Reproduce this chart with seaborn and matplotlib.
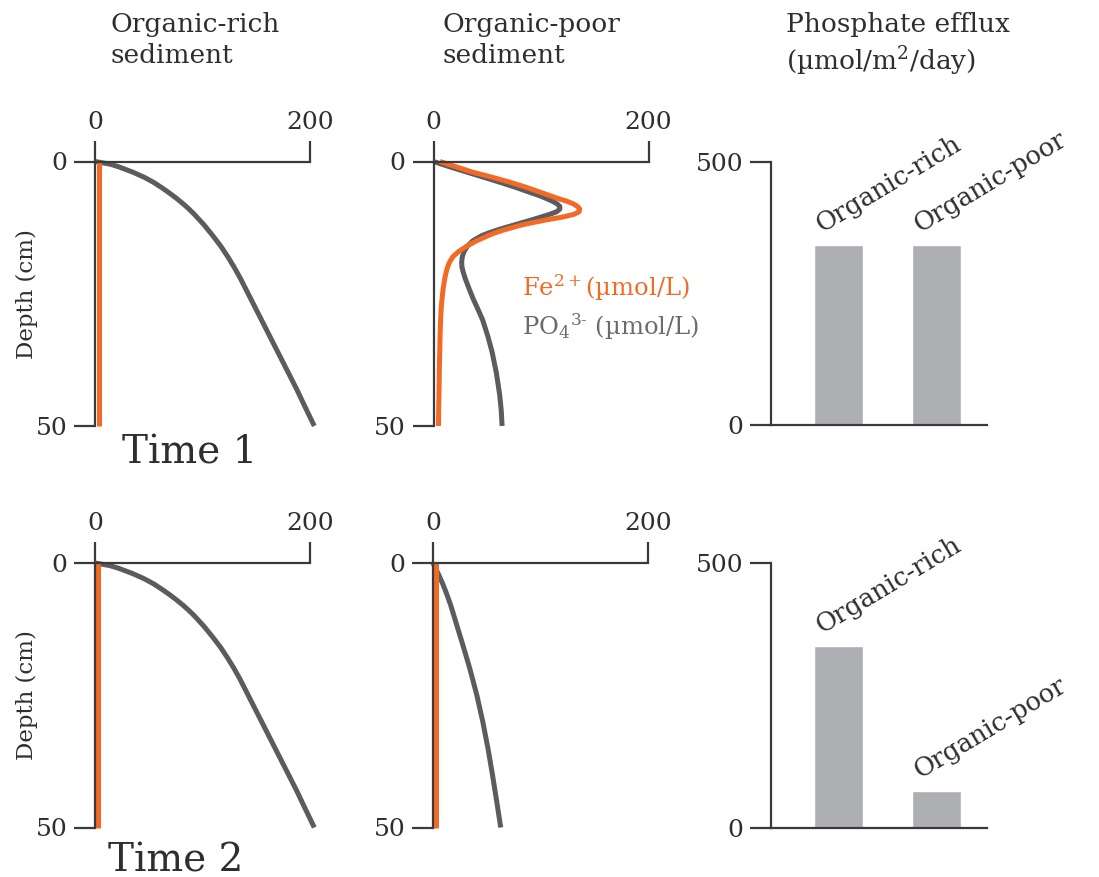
import matplotlib
matplotlib.use("Agg")
import matplotlib.pyplot as plt
import seaborn as sns
import pandas as pd

# ---------------- data ----------------
# Organic-rich sediment (same at time 1 and time 2)
depth_rich = [0, 0.5, 1, 2, 3, 4, 5, 6, 7, 8, 9, 10, 12, 14, 16, 18, 20, 22, 25,
              28, 31, 34, 37, 40, 43, 46, 50]
po4_rich_t1 = [0, 14, 22, 35, 46, 55, 62.5, 69.5, 76, 82, 87.5, 92.5, 101.5, 109.5,
               117, 123.5, 129.5, 135, 142.5, 150, 157.5, 165, 172.5, 180, 187.5,
               194.5, 204]
po4_rich_t2 = [0, 14, 22, 35, 46, 55, 62.5, 69.5, 76, 82, 87.5, 92.5, 101.5, 109.5,
               117, 123.5, 129.5, 135, 142.5, 150, 157.5, 165, 172.5, 180, 187.5,
               194.5, 204]
depth_fe_rich = [0, 50]
fe_rich_t1 = [4, 4]
fe_rich_t2 = [3, 3]

# Organic-poor sediment, time 1
depth_poor_t1 = [0, 1, 2, 3, 4, 5, 6, 6.5, 7, 7.5, 8, 8.5, 9, 9.5, 10, 10.5, 11,
                 11.5, 12, 12.5, 13, 13.5, 14, 15, 16, 17, 18, 19, 20, 21, 22, 24,
                 26, 28, 30, 33, 36, 40, 44, 47, 50]
fe_poor_t1 = [6, 21, 36, 55, 72.5, 88, 102, 109, 116, 124, 130, 134, 136, 135.5,
              130.5, 120, 106, 93.5, 82, 73, 64.5, 57, 51, 40, 31, 23.5, 18, 15,
              13, 11.7, 10.6, 9, 7.9, 7.1, 6.6, 6.1, 5.8, 5.4, 5.1, 4.8, 4.6]
po4_poor_t1 = [0, 15, 31, 47, 63, 78, 92, 99, 105, 110.5, 115, 117.5, 117.5, 114.5,
               108, 100, 92, 83.5, 75, 66.5, 58.5, 51.5, 45, 36.5, 31.5, 28.5, 26.8,
               26.2, 26.5, 27.8, 29.3, 33, 37, 41.5, 45.8, 50.5, 54.5, 58.5, 61.5,
               63, 63.8]

# Organic-poor sediment, time 2
depth_poor_t2 = [0, 2, 4, 6, 8, 10, 13, 16, 20, 25, 30, 35, 40, 45, 50]
po4_poor_t2 = [0, 4.8, 9.2, 13, 16.5, 19.5, 24, 28.5, 34.3, 40.8, 46.3, 51.1, 55.3,
               59.2, 63]
depth_fe_poor = [0, 50]
fe_poor_t2 = [3, 3]

# Phosphate efflux (umol/m2/day)
bar_categories = ["Organic-rich", "Organic-poor"]
efflux_t1 = [342, 342]
efflux_t2 = [343, 70]

x_ticks = [0, 200]
depth_ticks = [0, 50]
efflux_ticks = [0, 500]

# ---------------- style ----------------
sns.set_theme(style="white")
plt.rcParams["font.family"] = ["DejaVu Serif"]
plt.rcParams["mathtext.fontset"] = "dejavuserif"

ORANGE = "#F26A25"
GRAY_LINE = "#5B5C5F"
BAR = "#AEAFB2"
AXC = "#3A3A3A"
TXT = "#2E2E2E"
FS_TICK = 18
FS_TITLE = 19
LW = 3.6

fig = plt.figure(figsize=(10.99, 8.77), dpi=100)


def style_profile(ax):
    ax.set_xlim(0, 200)
    ax.set_ylim(50, 0)
    ax.xaxis.tick_top()
    ax.set_xticks(x_ticks)
    ax.set_yticks(depth_ticks)
    for s in ["right", "bottom"]:
        ax.spines[s].set_visible(False)
    for s in ["top", "left"]:
        ax.spines[s].set_color(AXC)
        ax.spines[s].set_linewidth(1.6)
    ax.tick_params(axis="both", direction="out", length=15, width=1.6,
                   color=AXC, labelsize=FS_TICK, labelcolor=TXT, pad=5)
    ax.tick_params(axis="x", top=True, bottom=False)
    ax.tick_params(axis="y", left=True, right=False)
    ax.set_xlabel("")
    ax.set_ylabel("")
    ax.set_facecolor("none")


def draw_line(ax, vals, depths, color):
    df = pd.DataFrame({"value": vals, "depth": depths})
    sns.lineplot(data=df, x="value", y="depth", orient="y", estimator=None,
                 color=color, lw=LW, ax=ax, legend=False)
    for ln in ax.lines:
        ln.set_clip_on(False)
        ln.set_solid_capstyle("butt")
        ln.set_solid_joinstyle("round")


def style_bar(ax):
    ax.set_xlim(-0.69, 1.51)
    ax.set_ylim(0, 500)
    ax.set_yticks(efflux_ticks)
    ax.set_xticks([])
    for s in ["right", "top"]:
        ax.spines[s].set_visible(False)
    for s in ["left", "bottom"]:
        ax.spines[s].set_color(AXC)
        ax.spines[s].set_linewidth(1.6)
    ax.tick_params(axis="y", direction="out", length=15, width=1.6, color=AXC,
                   labelsize=FS_TICK, labelcolor=TXT, pad=5, left=True)
    ax.set_xlabel("")
    ax.set_ylabel("")


def draw_bars(ax, values):
    df = pd.DataFrame({"cat": bar_categories, "val": values})
    sns.barplot(data=df, x="cat", y="val", color=BAR, saturation=1, width=0.5,
                ax=ax)
    for i, (c, v) in enumerate(zip(bar_categories, values)):
        ax.text(i - 0.25 + 0.08, v + 24, c, rotation=31, rotation_mode="anchor",
                ha="left", va="baseline", fontsize=18.5, color=TXT)


# axes positions
W, H = 1099, 877
def rect(left, top, right, bottom):
    return [left / W, 1 - bottom / H, (right - left) / W, (bottom - top) / H]

ax11 = fig.add_axes(rect(95, 161.5, 310, 426))
ax12 = fig.add_axes(rect(433.5, 161.5, 648.5, 426))
ax13 = fig.add_axes(rect(771, 161.7, 987, 425.5))
ax21 = fig.add_axes(rect(95, 563, 310, 827.5))
ax22 = fig.add_axes(rect(433, 563, 648, 827.5))
ax23 = fig.add_axes(rect(771, 563.3, 987, 828))

# Time 1
draw_line(ax11, po4_rich_t1, depth_rich, GRAY_LINE)
draw_line(ax11, fe_rich_t1, depth_fe_rich, ORANGE)
draw_line(ax12, po4_poor_t1, depth_poor_t1, GRAY_LINE)
draw_line(ax12, fe_poor_t1, depth_poor_t1, ORANGE)
draw_bars(ax13, efflux_t1)

# Time 2
draw_line(ax21, po4_rich_t2, depth_rich, GRAY_LINE)
draw_line(ax21, fe_rich_t2, depth_fe_rich, ORANGE)
draw_line(ax22, po4_poor_t2, depth_poor_t2, GRAY_LINE)
draw_line(ax22, fe_poor_t2, depth_fe_poor, ORANGE)
draw_bars(ax23, efflux_t2)

for ax in (ax11, ax12, ax21, ax22):
    style_profile(ax)
for ax in (ax13, ax23):
    style_bar(ax)

for ax in (ax11, ax21):
    ax.set_ylabel("Depth (cm)", fontsize=16.5, color=TXT, labelpad=-2)

# legend texts in organic-poor time-1 panel
ax12.text(82, 25.5, "Fe$^{2+}$(µmol/L)", fontsize=17.5, color=ORANGE,
          ha="left", va="baseline")
ax12.text(82, 32.8, "PO$_4$$^{3\\text{-}}$ (µmol/L)", fontsize=17.5,
          color="#6A6B6E", ha="left", va="baseline")

# column titles
fig.text(110 / W, 1 - 12 / H, "Organic-rich\nsediment", fontsize=FS_TITLE,
         color=TXT, ha="left", va="top", linespacing=1.28)
fig.text(443 / W, 1 - 12 / H, "Organic-poor\nsediment", fontsize=FS_TITLE,
         color=TXT, ha="left", va="top", linespacing=1.28)
fig.text(786 / W, 1 - 12 / H, "Phosphate efflux\n(µmol/m$^2$/day)",
         fontsize=FS_TITLE, color=TXT, ha="left", va="top", linespacing=1.28)

# time labels
fig.text(122 / W, 1 - 463 / H, "Time 1", fontsize=28, color=TXT, ha="left",
         va="baseline")
fig.text(108 / W, 1 - 871 / H, "Time 2", fontsize=28, color=TXT, ha="left",
         va="baseline")

fig.savefig("out.png", dpi=100, facecolor="white")
